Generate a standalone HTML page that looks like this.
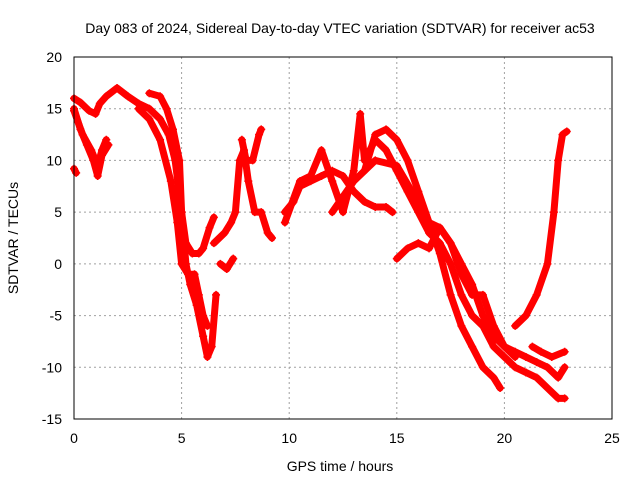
<!DOCTYPE html>
<html><head><meta charset="utf-8"><style>
body{margin:0;background:#fff;}
svg{display:block;font-family:"Liberation Sans",sans-serif;}
</style></head><body>
<svg id="chart" width="640" height="480" viewBox="0 0 640 480">
<text x="340" y="33" font-size="14" text-anchor="middle">Day 083 of 2024, Sidereal Day-to-day VTEC variation (SDTVAR) for receiver ac53</text>
<text x="340" y="471" font-size="14" text-anchor="middle">GPS time / hours</text>
<text transform="translate(18,238) rotate(-90)" font-size="14" text-anchor="middle">SDTVAR / TECUs</text>
<g id="grid"></g><g id="ticks"></g><g id="marks"></g>
<rect x="74" y="57" width="538" height="362" fill="none" stroke="#000" stroke-width="1"/>
</svg>
<script>
const xTicks=[0,5,10,15,20,25];
const yTicks=[-15,-10,-5,0,5,10,15,20];
const t1=[[0,16],[0.3,15.6],[0.7,14.8],[1.0,14.5],[1.2,15.5],[1.5,16.2],[2,17],[2.5,16.2],[3,15.5],[3.5,15],[4,14],[4.4,12.5],[4.7,10],[5,5],[5.2,2],[5.5,1],[5.8,1],[6.0,1.5],[6.3,3.5],[6.5,4.5]];
const t2=[[0,15],[0.3,13],[0.6,11.5],[0.9,10],[1.1,8.5],[1.3,10.5],[1.6,11.5]];
const t3=[[0,14.8],[0.4,12.5],[0.8,11],[1.1,9.5],[1.3,11],[1.5,12]];
const t4=[[3.5,16.5],[4,16.2],[4.3,15],[4.6,13],[4.9,10],[5.0,5],[5.2,0],[5.4,-2],[5.7,-4],[6,-7],[6.2,-9],[6.4,-8],[6.6,-3]];
const t5=[[3,15],[3.5,14],[4,12],[4.5,8],[4.8,4],[5,0],[5.3,-1],[5.6,-1],[5.8,-3],[6,-5],[6.2,-6]];
const t6=[[0,9.2],[0.1,8.8]];
const t7=[[6.5,2],[7,3],[7.3,4],[7.5,5],[7.7,10],[7.9,11],[8.1,8],[8.4,5],[8.7,5],[9,3],[9.2,2.5]];
const t8=[[7.8,12],[8.0,10],[8.3,10],[8.6,12.5],[8.7,13]];
const t9=[[6.8,0],[7.1,-0.5],[7.4,0.5]];
const t10=[[9.8,5],[10.2,6],[10.5,7.5],[11,8],[11.5,8.5],[12,9],[12.5,8.5],[13,7],[13.5,6],[14,5.5],[14.5,5.5],[14.8,5]];
const t11=[[9.8,4],[10.5,8],[11,8.5],[11.5,11],[12,8],[12.5,5],[13,9],[13.3,14.5],[13.5,10],[14,12],[14.5,11],[15,9],[15.5,7],[16,5],[16.5,3],[17,2],[17.5,0],[18,-3],[18.5,-5],[19,-6],[19.5,-8],[20,-9],[20.5,-10],[21,-10.5],[21.5,-11],[22,-12],[22.5,-13],[22.8,-13]];
const t12=[[13.5,9],[14,12.5],[14.5,13],[15,12],[15.5,10],[16,7],[16.5,4],[17,1],[17.5,-3],[18,-6],[18.5,-8],[19,-10],[19.5,-11],[19.8,-12]];
const t13=[[15,0.5],[15.5,1.5],[16,2],[16.5,1.5],[17,3.5],[17.5,2],[18,-1],[18.5,-3],[19,-3],[19.5,-6],[20,-8],[20.5,-8.5],[21,-9],[21.5,-9.5],[22,-10],[22.5,-11],[22.8,-10]];
const t14=[[12,5],[13,8],[14,10],[15,9.5],[15.7,7],[16.5,4],[17,3.5],[17.5,2],[18,0],[18.5,-2],[19,-5],[19.5,-7],[20,-8],[20.5,-9]];
const t15=[[20.5,-6],[21,-5],[21.5,-3],[22,0],[22.3,5],[22.5,10],[22.7,12.5],[22.9,12.8]];
const t16=[[21.3,-8],[21.7,-8.5],[22.2,-9],[22.8,-8.5]];
const tracks=[t1,t2,t3,t4,t5,t6,t7,t8,t9,t10,t11,t12,t13,t14,t15,t16];
const X=v=>74+v*538/25, Y=v=>419-(v+15)*362/35;
const NS="http://www.w3.org/2000/svg";
const g=document.getElementById('grid'),tk=document.getElementById('ticks'),mk=document.getElementById('marks');
function mkEl(tag,attrs,parent){const e=document.createElementNS(NS,tag);for(const k in attrs)e.setAttribute(k,attrs[k]);parent.appendChild(e);return e;}
xTicks.forEach(v=>{
 const e=mkEl('line',{x1:X(v),x2:X(v),y1:57,y2:419,stroke:'#a0a0a0','stroke-dasharray':'2,3'},g);
 
 
 const t=mkEl('text',{x:X(v),y:443,'font-size':14,'text-anchor':'middle'},tk);t.textContent=v;
 
 
});
yTicks.forEach(v=>{
 const e=mkEl('line',{x1:74,x2:612,y1:Y(v),y2:Y(v),stroke:'#a0a0a0','stroke-dasharray':'2,3'},g);
 
 
 const t=mkEl('text',{x:62,y:Y(v)+5,'font-size':14,'text-anchor':'end'},tk);t.textContent=v;
 
 
});
tracks.forEach(tr=>{
 const p=mkEl('polyline',{points:tr.map(d=>X(d[0])+','+Y(d[1])).join(' '),fill:'none',stroke:'#f00','stroke-width':7,'stroke-linejoin':'round','stroke-linecap':'round'},mk);
 
 
 tr.forEach(d=>{
  const m=mkEl('path',{d:`M${X(d[0])-4},${Y(d[1])}h8M${X(d[0])},${Y(d[1])-4}v8`,stroke:'#f00','stroke-width':1.5},mk);
  
  
 });
});
</script>
</body></html>
